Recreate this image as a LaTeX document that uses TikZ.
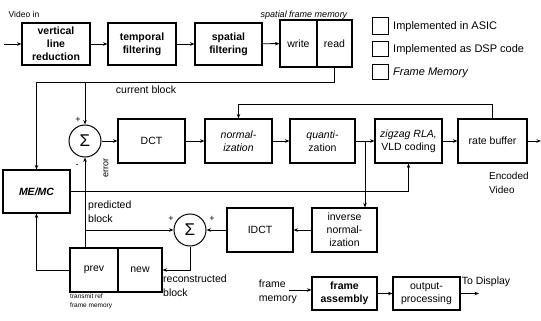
\documentclass[tikz,border=0pt]{standalone}
\usepackage{fontspec}
\setmainfont{Liberation Sans}
\usetikzlibrary{arrows.meta}
\begin{document}
\begin{tikzpicture}[x=1pt,y=-1pt,
  blk/.style={draw, line width=1.1pt, inner sep=0pt, align=center,
    font=\fontsize{10.5}{13}\selectfont},
  bblk/.style={blk, font=\fontsize{10.5}{13}\selectfont\bfseries},
  legbox/.style={draw, line width=1pt, minimum width=16pt, minimum height=15pt, inner sep=0pt},
  sig/.style={draw, circle, line width=1pt, minimum size=32pt, inner sep=0pt,
    font=\fontsize{17}{17}\selectfont},
  arr/.style={line width=0.9pt, -{Stealth[length=4.5pt,width=3.5pt]}},
  ln/.style={line width=0.9pt},
  lbl/.style={inner sep=0pt, font=\fontsize{10.5}{14}\selectfont},
  sml/.style={inner sep=0pt, font=\fontsize{9}{11}\selectfont}]
\useasboundingbox (0,0) rectangle (541,321);

% top row
\node[bblk, minimum width=68pt, minimum height=42pt] (vlr) at (56,44) {vertical\\line\\reduction};
\node[bblk, minimum width=68pt, minimum height=42pt] (tf) at (142,44) {temporal\\filtering};
\node[bblk, minimum width=67pt, minimum height=42pt] (sf) at (228.5,44) {spatial\\filtering};
\node[blk, minimum width=37pt, minimum height=47pt] (wr) at (298.5,43.5) {write};
\node[blk, minimum width=35pt, minimum height=47pt] (rd) at (334.5,43.5) {read};
\node[lbl, font=\fontsize{9}{11}\selectfont\itshape] (sfm) at (304,15) {spatial frame memory};
\node[lbl, font=\fontsize{8.5}{10}\selectfont] (vin) at (24,14) {Video in};
\coordinate (vs) at (4,44);

% legend
\node[legbox, minimum height=17pt] (l1) at (380,26.5) {};
\node[legbox] (l2) at (380,49.5) {};
\node[legbox] (l3) at (380,72.5) {};
\node[lbl, anchor=west, font=\fontsize{11}{13}\selectfont] (t1) at (393,27) {Implemented in ASIC};
\node[lbl, anchor=west, font=\fontsize{11}{13}\selectfont] (t2) at (393,50) {Implemented as DSP code};
\node[lbl, anchor=west, font=\fontsize{11}{13}\selectfont\itshape] (t3) at (393,73) {Frame Memory};

% middle row
\node[sig] (s1) at (85,141) {Σ};
\node[blk, minimum width=67pt, minimum height=44pt] (dct) at (151.5,141) {DCT};
\node[blk, minimum width=67pt, minimum height=44pt] (nrm) at (238.5,141) {\textit{normal-}\\\textit{ization}};
\node[blk, minimum width=65pt, minimum height=44pt] (qnt) at (322.5,141) {\textit{quanti-}\\zation};
\node[blk, minimum width=67pt, minimum height=44pt] (zz) at (408.5,141) {\textit{zigzag RLA,}\\VLD coding};
\node[blk, minimum width=69pt, minimum height=44pt] (rb) at (492.5,141) {rate buffer};
\coordinate (vout) at (541,141);
\node[bblk, font=\fontsize{10.5}{13}\selectfont\bfseries\itshape, minimum width=67pt, minimum height=43pt] (me) at (36.5,191.5) {ME/MC};

\node[lbl, anchor=north west, align=left, font=\fontsize{10}{14}\selectfont] (enc) at (489,172) {Encoded\\Video};
\node[lbl] (cb) at (146,90) {current block};
\node[sml] (p1) at (78,120) {+};
\node[sml] (m1) at (77,166) {-};
\node[sml, rotate=90] (err) at (106,168) {error};

% lower part
\node[sig] (s2) at (190,230) {Σ};
\node[blk, minimum width=66pt, minimum height=44pt] (idct) at (260,230) {IDCT};
\node[blk, minimum width=65pt, minimum height=44pt] (inv) at (344.5,230) {inverse\\normal-\\ization};
\node[blk, minimum width=48pt, minimum height=44pt] (prev) at (94,270) {prev};
\node[blk, minimum width=44pt, minimum height=44pt] (new) at (140,270) {new};
\node[lbl, anchor=north west, align=left] (pb) at (88,201) {predicted\\block};
\node[lbl, anchor=north west, align=left] (rcb) at (163,275) {reconstructed\\block};
\node[lbl, anchor=north west, align=left, font=\fontsize{6.5}{8.5}\selectfont] (trm) at (70,294) {transmit ref\\frame memory};
\node[sml] (p2) at (171,219) {+};
\node[sml] (p3) at (212,219) {+};

\node[bblk, minimum width=65pt, minimum height=33pt] (fa) at (344.5,293.5) {frame\\assembly};
\node[blk, minimum width=67pt, minimum height=33pt] (op) at (426.5,293.5) {output-\\processing};
\node[lbl, anchor=east, align=left] (fmt) at (297,292) {frame\\memory};
\coordinate (fm) at (289,290);
\node[lbl] (tdt) at (486,282) {To Display};
\coordinate (td) at (479,293.5);

% connectors top row
\draw[arr] (vs) -- (vlr);
\draw[arr] (vlr) -- (tf);
\draw[arr] (tf) -- (sf);
\draw[arr] (sf) -- (wr);
\coordinate (cbj) at (85,82);
\draw[arr] (rd.south) -- ++(0,15) -| (me.north);
\draw[arr] (cbj) -- (s1.north);

% middle connectors
\draw[arr] (s1) -- (dct);
\draw[arr] (dct) -- (nrm);
\draw[arr] (nrm) -- (qnt);
\draw[arr] (qnt) -- (zz);
\draw[arr] (zz) -- (rb);
\draw[arr] (rb) -- (vout);
\draw[arr] (rb.north) -- ++(0,-14) -| (nrm.north);
\coordinate (qj) at (365,141);
\draw[arr] (qj) -- (qj |- inv.north);
\draw[arr] (me.east) -| (zz.south);

% lower connectors
\draw[arr] (prev.north -| s1) -- (s1.south);
\coordinate (pj) at (85,230);
\draw[arr] (pj) -- (s2.west);
\draw[arr] (idct) -- (s2);
\draw[arr] (inv) -- (idct);
\draw[arr] (s2.south) |- (new.east);
\draw[arr] (prev.west) -| (me.south);
\draw[arr] (fm) -- (fm -| fa.west);
\draw[arr] (fa) -- (op);
\draw[arr] (op) -- (td);
\end{tikzpicture}
\end{document}
